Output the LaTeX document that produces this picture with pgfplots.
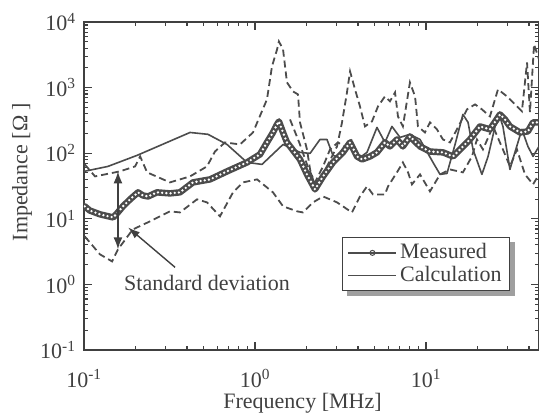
\documentclass[border=0pt]{standalone}
\usepackage{pgfplots}
\pgfplotsset{compat=1.18}
\usepackage{fontspec}
\setmainfont{Liberation Serif}
\usetikzlibrary{arrows.meta}
\pgfdeclarelayer{background}
\pgfsetlayers{background,main}
\definecolor{ink}{gray}{0.25}
\definecolor{lin}{gray}{0.3}
\begin{document}
\fontsize{22}{26}\selectfont
\begin{tikzpicture}
\begin{axis}[
  scale only axis, width=455pt, height=328pt,
  xmode=log, ymode=log,
  xmin=0.1, xmax=45.8, ymin=0.1, ymax=10000,
  axis line style={ink, line width=1.8pt},
  tick style={ink, line width=1.1pt},
  major tick length=8pt, minor tick length=4pt,
  tick align=inside,
  xtick={0.1,1,10},
  xticklabels={10\textsuperscript{-1},10\textsuperscript{0},10\textsuperscript{1}},
  minor xtick={0.2,0.3,0.4,0.5,0.6,0.7,0.8,0.9,2,3,4,5,6,7,8,9,20,30,40},
  ytick={0.1,1,10,100,1000,10000},
  yticklabels={10\textsuperscript{-1},10\textsuperscript{0},10\textsuperscript{1},10\textsuperscript{2},10\textsuperscript{3},10\textsuperscript{4}},
  minor ytick={0.2,0.3,0.4,0.5,0.6,0.7,0.8,0.9,2,3,4,5,6,7,8,9,20,30,40,50,60,70,80,90,200,300,400,500,600,700,800,900,2000,3000,4000,5000,6000,7000,8000,9000},
  ticklabel style={font=\fontsize{22}{26}\selectfont, text=ink},
  xticklabel style={yshift=-12pt},
  yticklabel style={xshift=-1pt},
  legend style={name=leg, at={(0.567,0.345)}, anchor=north west, draw=ink, line width=1.5pt,
    fill=white, font=\fontsize{22}{24}\selectfont, text=ink,
    inner xsep=5pt, inner ysep=4pt, row sep=0pt,
    nodes={inner xsep=3pt, inner ysep=2pt}},
  legend cell align=left,
  legend image code/.code={\draw[mark repeat=2,mark phase=2,#1] plot coordinates {(0pt,0pt)(24pt,0pt)(48pt,0pt)};},
]
\addlegendimage{lin, line width=1.4pt, mark=o, mark size=2.5pt, mark options={solid, fill=white, line width=1pt}}
\addlegendimage{lin, line width=1.4pt}
\legend{Measured, Calculation}

% upper dashed 1
\addplot[forget plot, lin, line width=1.8pt, dash pattern=on 7pt off 4pt] coordinates {
(0.101,67.5)(0.116,44.3)(0.162,52.8)(0.199,62.9)(0.213,89.3)(0.234,51.0)(0.318,35.9)(0.417,44.3)
(0.524,62.9)(0.583,106)(0.668,146)(0.817,136)(0.973,207)(1.175,661)(1.257,2104)(1.346,3820)
(1.380,5058)(1.459,3820)(1.538,1200)(1.667,875)(1.784,788)(1.833,295)(2.014,114)(2.099,56.6)
(2.244,31.2)(2.636,62.9)(3.019,127)(3.228,295)(3.451,845)(3.597,1766)(3.846,939)(4.111,517)
(4.397,256)(4.831,305)(5.240,517)(5.754,734)(6.152,617)(6.592,845)(6.855,364)(7.328,256)
(8.054,1200)(8.630,734)(8.974,256)(9.863,207)(10.55,295)(11.59,231)(12.56,162)(13.80,146)
(15.17,231)(17.38,466)(19.36,555)(21.23,466)(23.66,364)(26.36,939)(29.79,734)(34.04,517)
(36.39,434)(38.99,2421)(40.55,419)(42.85,4560)(45.8,2690)};
% upper dashed 2
\addplot[forget plot, lin, line width=1.8pt, dash pattern=on 7pt off 4pt] coordinates {
(1.603,327)(1.833,136)(2.042,60.8)(2.244,35.9)(2.500,62.9)(2.746,114)(3.055,146)(3.404,123)(3.690,162)};
% lower dashed
\addplot[forget plot, lin, line width=1.8pt, dash pattern=on 7pt off 4pt] coordinates {
(0.101,5.39)(0.124,2.87)(0.146,2.24)(0.158,3.42)(0.193,6.89)(0.243,9.13)(0.318,13.0)(0.364,12.5)
(0.458,19.8)(0.524,17.8)(0.624,10.9)(0.744,25.3)(0.851,35.9)(1.028,39.9)(1.274,25.3)(1.459,15.5)
(1.762,13.0)(1.909,12.5)(2.185,17.8)(2.500,21.9)(3.019,17.8)(3.690,12.5)(4.111,21.9)(4.519,31.2)
(4.898,23.5)(5.754,23.5)(5.998,31.2)(6.761,51.0)(7.328,72.4)(7.852,51.0)(8.279,33.5)(9.226,47.5)
(10.55,26.2)(12.08,47.5)(13.80,56.6)(16.44,51.0)(18.58,89.3)(19.86,162)(21.53,114)(24.66,256)
(28.18,114)(30.97,62.9)(34.04,114)(37.93,47.5)(42.27,33.5)(45.8,47.5)};
% calculation
\addplot[forget plot, lin, line width=1.6pt, line join=round] coordinates {
(0.1,52.8)(0.138,62.9)(0.204,92.5)(0.417,207)(0.531,194)(0.686,136)(0.898,72.4)(1.099,67.5)
(1.459,136)(1.833,103)(2.099,99.3)(2.399,162)(2.636,162)(2.858,92.5)(3.14,86.3)(3.597,157)
(4.111,86.3)(4.519,103)(5.168,247)(5.754,146)(6.32,256)(7.05,174)(8.054,194)(9.226,162)
(10.99,72.4)(12.08,47.5)(13.27,49.2)(14.79,136)(16.44,390)(17.62,295)(18.84,114)(21.23,47.5)
(23.07,89.3)(25.35,256)(27.10,351)(28.18,256)(30.97,56.6)(33.11,103)(36.39,231)(39.45,127)
(42.27,89.3)(45.8,127)};
% measured: dark band with white dots
\pgfplotstableread{
x y
0.101 15.5
0.108 13.4
0.124 11.7
0.148 10.5
0.156 12.1
0.169 15.5
0.186 19.8
0.207 25.3
0.221 22.7
0.237 21.9
0.267 25.3
0.318 24.4
0.364 25.3
0.434 35.9
0.546 39.9
0.686 52.8
0.898 72.4
1.069 95.9
1.175 146
1.274 207
1.346 275
1.380 305
1.459 207
1.538 146
1.603 127
1.833 80.4
2.014 47.5
2.244 28.1
2.500 44.3
2.858 72.4
3.27 103
3.597 146
3.95 89.3
4.227 80.4
4.71 89.3
5.168 103
5.754 146
6.152 127
6.761 162
7.328 127
8.054 180
9.226 127
10.55 106
12.56 103
14.39 89.3
15.81 114
18.07 162
20.70 256
23.66 231
27.10 390
28.97 327
30.97 256
35.48 207
39.45 215
42.27 295
45.8 295
}\measured
\addplot[forget plot, lin, line width=6.5pt, line join=round, line cap=round] table[x=x,y=y] {\measured};
\addplot[forget plot, white, line width=2.6pt, dash pattern=on 0pt off 4.2pt, line cap=round] table[x=x,y=y] {\measured};

\draw[ink, line width=1.6pt, {Latex[length=12pt,width=9pt]}-{Latex[length=12pt,width=9pt]}]
  (axis cs:0.158,52.8) -- (axis cs:0.158,3.42);
\draw[ink, line width=1.4pt, {Latex[length=12pt,width=8pt]}-]
  (axis cs:0.181,7.39) -- (axis cs:0.341,1.82);
\node[text=ink, font=\fontsize{22}{26}\selectfont] at (axis cs:0.524,1.07) {Standard deviation};
\end{axis}
\begin{pgfonlayer}{background}
\fill[gray!75] ([shift={(5pt,-5pt)}]leg.south west) rectangle ([shift={(5pt,-5pt)}]leg.north east);
\end{pgfonlayer}
\node[text=ink, font=\fontsize{22}{26}\selectfont] at ([shift={(-9pt,-53pt)}]current axis.south) {Frequency [MHz]};
\node[text=ink, rotate=90, font=\fontsize{22}{26}\selectfont] at ([shift={(-62pt,14pt)}]current axis.west) {Impedance [Ω ]};
\pgfresetboundingbox
\path ([shift={(-84pt,-62pt)}]current axis.south west) rectangle ([shift={(0pt,22pt)}]current axis.north east);
\end{tikzpicture}
\end{document}
